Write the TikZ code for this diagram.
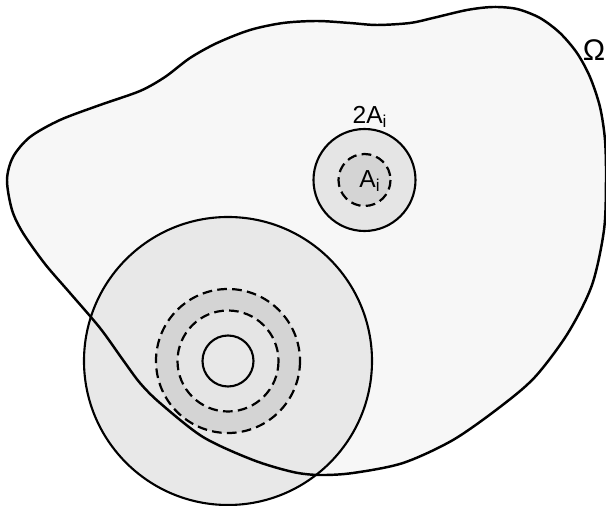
\documentclass[tikz,border=0pt]{standalone}
\usepackage{fontspec}
\setmainfont{Liberation Sans}

% outline of the domain Omega
\newcommand{\omegashape}{plot[smooth cycle, tension=0.5] coordinates {
  (493,7) (517,9) (540,18) (560,33) (577,53) (590,77) (600,107)
  (605,140) (606,180) (604,230) (592,285) (568,333) (535,377)
  (500,407) (453,440) (403,463) (353,473) (320,475) (293,472)
  (253,460) (203,437) (160,403) (140,383) (123,360) (100,328)
  (70,293) (45,264) (23,233) (12,210) (7,180) (13,157) (30,137)
  (60,120) (100,105) (140,91) (165,77) (190,58) (217,43) (250,30)
  (283,23) (317,21) (350,23) (377,25) (410,23) (433,18) (467,10)}}

\begin{document}
\begin{tikzpicture}[
  x=0.02cm, y=-0.02cm,
  outline/.style={draw=black, line width=1.4pt},
  rim/.style={draw=black, line width=1.2pt},
  dashring/.style={draw=black, line width=1.25pt, dash pattern=on 5.5pt off 3pt},
  lbl/.style={font=\fontsize{14}{16}\selectfont, inner sep=0pt}
]
\useasboundingbox (0,0) rectangle (606,506);

\coordinate (bigc) at (228,361);
\coordinate (ballc) at (364.5,180);

% domain
\fill[white] (0,0) rectangle (606,506);
\fill[black!3] \omegashape;

% large ball with the rings
\fill[black!9] (bigc) circle[radius=144];
\fill[black!17] (bigc) circle[radius=72];
\fill[black!10] (bigc) circle[radius=50.5];
\fill[black!9] (bigc) circle[radius=25.5];

% small ball 2A_i with A_i
\fill[black!10] (ballc) circle[radius=51];
\fill[black!17] (ballc) circle[radius=26];

% outlines
\draw[outline] \omegashape;
\draw[rim] (bigc) circle[radius=144];
\draw[dashring] (bigc) circle[radius=72];
\draw[dashring] (bigc) circle[radius=50.5];
\draw[rim] (bigc) circle[radius=25.5];
\draw[rim] (ballc) circle[radius=51];
\draw[dashring] (ballc) circle[radius=26];

% labels
\node[lbl] (twoA) at (370,117) {2A\textsubscript{i}};
\node[lbl] (A) at (370,181) {A\textsubscript{i}};
\node[lbl, font=\fontsize{17}{20}\selectfont, anchor=east] (om) at (605.5,50) {Ω};

\end{tikzpicture}
\end{document}
